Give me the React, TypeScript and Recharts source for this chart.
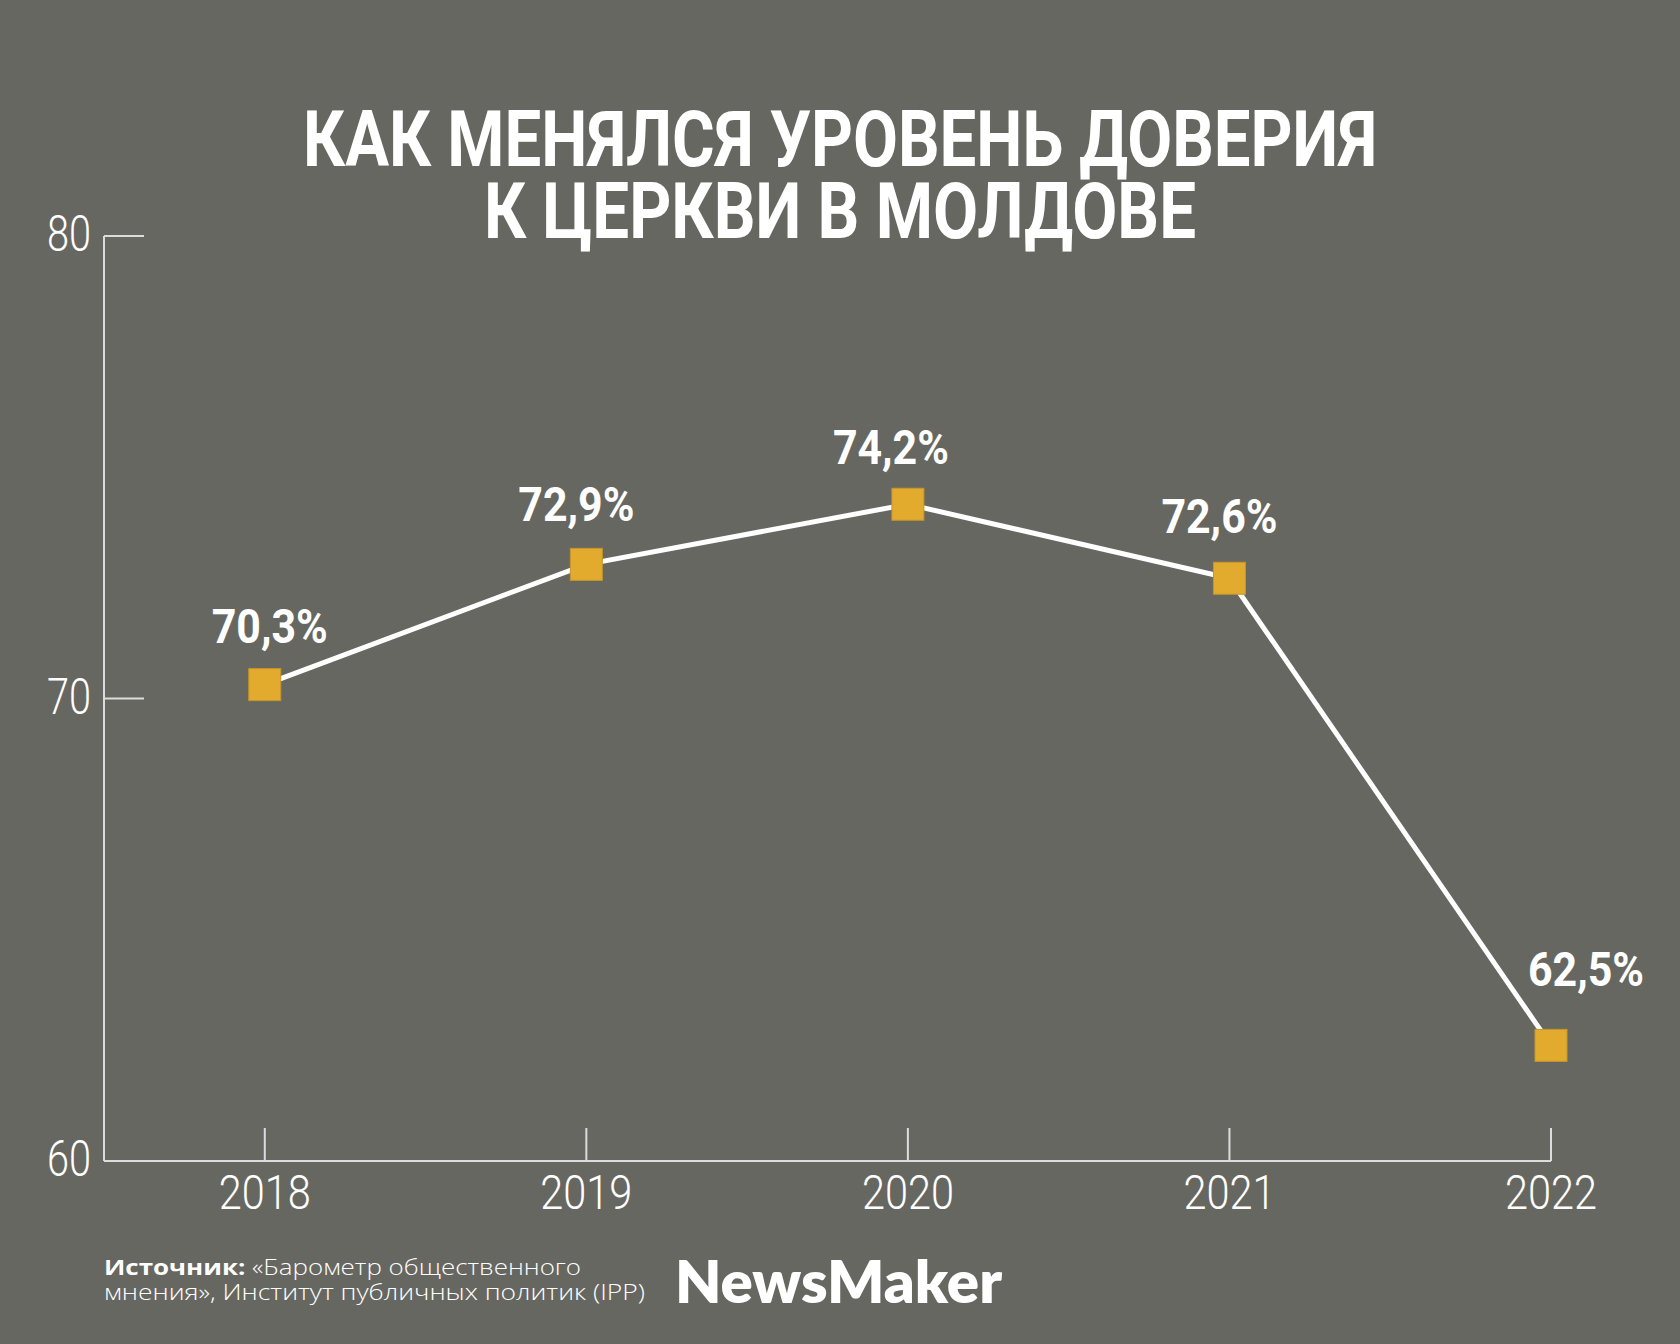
import { Line, LineChart, XAxis, YAxis } from 'recharts'

const years = [2018, 2019, 2020, 2021, 2022]
const trust = [70.3, 72.9, 74.2, 72.6, 62.5]
const yTicks = [60, 70, 80]
const titleLines = ['КАК МЕНЯЛСЯ УРОВЕНЬ ДОВЕРИЯ', 'К ЦЕРКВИ В МОЛДОВЕ']
const sourceBold = 'Источник:'
const sourceLines = [' «Барометр общественного', 'мнения», Институт публичных политик (IPP)']
const brand = 'NewsMaker'

// label nudges relative to each marker (layout only)
const labelNudge = [
  [5, -42],
  [-10, -43],
  [-17, -40],
  [-10, -45],
  [35, -59],
]

const BG = '#676762'
const AXIS = '#dcdcdc'
const GOLD = '#e2ab2d'

const chartData = years.map((year, i) => ({ year, value: trust[i] }))

function fmt(v: number): string {
  return `${v.toFixed(1).replace('.', ',')}%`
}

function YTick(props: any) {
  const { x, y, payload } = props
  return (
    <g>
      <line x1={x} y1={y} x2={x + 40} y2={y} stroke={AXIS} strokeWidth={2} />
      <text
        x={x - 13}
        y={y + 15}
        textAnchor="end"
        fill="#fff"
        fontFamily="Roboto"
        fontWeight={300}
        fontSize={50}
        textLength={44}
        lengthAdjust="spacingAndGlyphs"
      >
        {payload.value}
      </text>
    </g>
  )
}

function XTick(props: any) {
  const { x, y, payload } = props
  return (
    <g>
      <line x1={x} y1={y} x2={x} y2={y - 33} stroke={AXIS} strokeWidth={2} />
      <text
        x={x}
        y={y + 48}
        textAnchor="middle"
        fill="#fff"
        fontFamily="Roboto"
        fontWeight={300}
        fontSize={49}
        textLength={92}
        lengthAdjust="spacingAndGlyphs"
      >
        {payload.value}
      </text>
    </g>
  )
}

function Marker(props: any) {
  const { cx, cy, index } = props
  return <rect key={`m${index}`} x={cx - 16} y={cy - 16} width={32} height={32} fill={GOLD} stroke="#c5952a" strokeWidth={1} />
}

function ValueLabel(props: any) {
  const { x, y, value, index } = props
  const [dx, dy] = labelNudge[index] ?? [0, -42]
  return (
    <text
      key={`l${index}`}
      x={x + dx}
      y={y + dy}
      textAnchor="middle"
      fill="#fff"
      fontFamily="Roboto"
      fontWeight={700}
      fontSize={49}
      textLength={116}
      lengthAdjust="spacingAndGlyphs"
    >
      {fmt(Number(value))}
    </text>
  )
}

export default function App() {
  return (
    <div style={{ position: 'absolute', left: 0, top: 0, width: 1680, height: 1344, background: BG }}>
      <LineChart width={1680} height={1344} data={chartData} margin={{ top: 236, right: 129, bottom: 0, left: 0 }}>
        <XAxis
          dataKey="year"
          type="number"
          domain={[2017.5, 2022]}
          ticks={years}
          interval={0}
          axisLine={{ stroke: AXIS, strokeWidth: 2 }}
          tickLine={false}
          tickSize={0}
          tickMargin={0}
          tick={<XTick />}
          height={183}
        />
        <YAxis
          type="number"
          domain={[60, 80]}
          ticks={yTicks}
          interval={0}
          width={104}
          axisLine={{ stroke: AXIS, strokeWidth: 2 }}
          tickLine={false}
          tickSize={0}
          tickMargin={0}
          tick={<YTick />}
        />
        <Line
          dataKey="value"
          type="linear"
          stroke="#ffffff"
          strokeWidth={5}
          dot={Marker}
          activeDot={false}
          label={ValueLabel}
          isAnimationActive={false}
        />
      </LineChart>
      <svg width={1680} height={1344} style={{ position: 'absolute', left: 0, top: 0, pointerEvents: 'none' }}>
        <text x={840} y={166} textAnchor="middle" fill="#fff" fontFamily="Roboto" fontWeight={700} fontSize={78} textLength={1074} lengthAdjust="spacingAndGlyphs">
          {titleLines[0]}
        </text>
        <text x={840} y={238} textAnchor="middle" fill="#fff" fontFamily="Roboto" fontWeight={700} fontSize={78} textLength={712} lengthAdjust="spacingAndGlyphs">
          {titleLines[1]}
        </text>
        <text x={104} y={1275} fill="#fff" fontFamily="Open Sans" fontSize={22} textLength={477} lengthAdjust="spacingAndGlyphs">
          <tspan fontWeight={700}>{sourceBold}</tspan>
          <tspan fontWeight={300}>{sourceLines[0]}</tspan>
        </text>
        <text x={104} y={1300} fill="#fff" fontFamily="Open Sans" fontWeight={300} fontSize={22} textLength={541} lengthAdjust="spacingAndGlyphs">
          {sourceLines[1]}
        </text>
        <text x={675} y={1303} fill="#fff" fontFamily="Lato" fontWeight={800} fontSize={58} textLength={327} lengthAdjust="spacingAndGlyphs">
          {brand}
        </text>
      </svg>
    </div>
  )
}
